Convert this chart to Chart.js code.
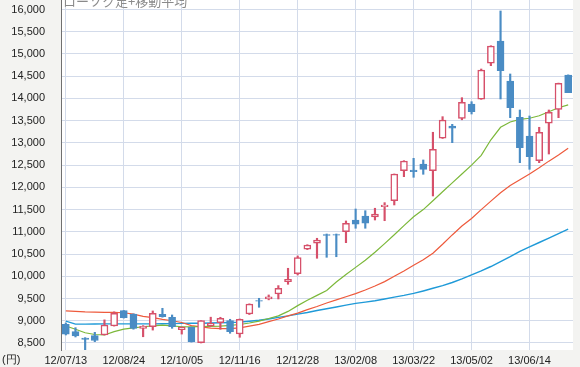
<!DOCTYPE html>
<html>
<head>
<meta charset="utf-8">
<script src="https://cdn.jsdelivr.net/npm/chart.js@4/dist/chart.umd.min.js"></script>
<style>
  html, body { margin: 0; padding: 0; background: #f3f3f1; }
  #wrap { width: 580px; height: 367px; }
</style>
</head>
<body>
<div id="wrap"><canvas id="kabuka"></canvas></div>
<script>
const dates = [
    "12/07/13", "12/07/20", "12/07/27", "12/08/03", "12/08/10", "12/08/17",
    "12/08/24", "12/08/31", "12/09/07", "12/09/14", "12/09/21", "12/09/28",
    "12/10/05", "12/10/12", "12/10/19", "12/10/26", "12/11/02", "12/11/09",
    "12/11/16", "12/11/23", "12/11/30", "12/12/07", "12/12/14", "12/12/21",
    "12/12/28", "13/01/04", "13/01/11", "13/01/18", "13/01/25", "13/02/01",
    "13/02/08", "13/02/15", "13/02/22", "13/03/01", "13/03/08", "13/03/15",
    "13/03/22", "13/03/29", "13/04/05", "13/04/12", "13/04/19", "13/04/26",
    "13/05/02", "13/05/10", "13/05/17", "13/05/24", "13/05/31", "13/06/07",
    "13/06/14", "13/06/21", "13/06/28", "13/07/05", "13/07/12"
];
const tickLabels = ["12/07/13", "12/08/24", "12/10/05", "12/11/16", "12/12/28",
                    "13/02/08", "13/03/22", "13/05/02", "13/06/14"];
const yTicks = [8500, 9000, 9500, 10000, 10500, 11000, 11500, 12000, 12500,
                13000, 13500, 14000, 14500, 15000, 15500, 16000];

const openP  = [8920, 8754, 8610, 8665, 8680, 8882, 9226, 9150, 8830, 8867, 9145, 9078,
                8800, 8853, 8507, 8882, 8957, 9002, 8702, 9152, 9455, 9490, 9602, 9880,
                10058, 10607, 10742, 10940, 10940, 11003, 11266, 11356, 11333, 11565, 11700, 12375,
                12390, 12526, 12375, 13104, 13380, 13550, 13875, 13981, 14794, 15292, 14392, 13576,
                13155, 12600, 13441, 13755, 14527];
const highP  = [8950, 8844, 8620, 8740, 9020, 9200, 9230, 9155, 8890, 9220, 9280, 9130,
                8860, 8860, 9002, 9080, 9078, 9033, 9040, 9380, 9505, 9580, 9790, 10180,
                10457, 10710, 10855, 10951, 10951, 11244, 11513, 11475, 11530, 11656, 12301, 12600,
                12653, 12616, 13239, 13590, 13418, 14017, 13927, 14662, 15185, 15967, 14550, 13740,
                13605, 13351, 13740, 14345, 14530];
const lowP   = [8680, 8635, 8340, 8530, 8680, 8880, 9060, 8810, 8640, 8790, 9080, 8830,
                8700, 8520, 8500, 8875, 8808, 8718, 8628, 9140, 9303, 9470, 9490, 9820,
                10030, 10600, 10405, 10427, 10440, 10756, 11080, 11080, 11266, 11250, 11604, 12240,
                12226, 12294, 11806, 13100, 13005, 13520, 13650, 13980, 14737, 13988, 13568, 12555,
                12406, 12555, 12750, 13567, 14130];
const closeP = [8700, 8657, 8580, 8555, 8905, 9168, 9070, 8830, 8882, 9168, 9092, 8867,
                8855, 8530, 9002, 8943, 9056, 8754, 9033, 9377, 9440, 9540, 9730, 9932,
                10418, 10704, 10816, 10920, 10925, 11192, 11170, 11192, 11401, 11604, 12301, 12593,
                12355, 12406, 12856, 13515, 13330, 13913, 13702, 14640, 15180, 14625, 13792, 12894,
                12690, 13239, 13688, 14340, 14130];

// 移動平均（短期・中期・長期）
const maShort = [8882, 8810, 8730, 8690, 8680, 8755, 8810, 8840, 8865, 8885, 8900, 8885,
                 8865, 8860, 8870, 8875, 8880, 8895, 8915, 8950, 8990, 9050, 9110, 9210,
                 9340, 9460, 9570, 9680, 9870, 10040, 10200, 10360, 10540, 10735, 10935, 11140,
                 11340, 11500, 11700, 11900, 12100, 12300, 12500, 12720, 13070, 13350, 13470, 13530,
                 13555, 13610, 13700, 13790, 13855];
const maMid   = [9222, 9210, 9200, 9195, 9190, 9188, 9180, 9150, 9100, 9070, 9030, 9000,
                 8960, 8890, 8860, 8835, 8825, 8825, 8840, 8880, 8920, 8980, 9040, 9110,
                 9170, 9250, 9320, 9400, 9470, 9540, 9610, 9690, 9780, 9880, 10000, 10120,
                 10250, 10370, 10520, 10720, 10930, 11130, 11300, 11500, 11690, 11880, 12040, 12170,
                 12300, 12440, 12590, 12730, 12880];
const maLong  = [8990, 8925, 8925, 8928, 8930, 8930, 8930, 8930, 8930, 8930, 8932, 8935,
                 8940, 8945, 8945, 8950, 8955, 8962, 8970, 8990, 9010, 9040, 9075, 9110,
                 9150, 9185, 9230, 9270, 9310, 9350, 9390, 9420, 9450, 9490, 9530, 9570,
                 9615, 9670, 9730, 9790, 9860, 9940, 10030, 10120, 10220, 10330, 10440, 10560,
                 10660, 10760, 10860, 10960, 11060];

const UP = "#d6506a";
const DOWN = "#4a8cc4";
const isUp = i => closeP[i] >= openP[i];

const bodies = dates.map((d, i) => [openP[i], closeP[i]]);
const wicks = dates.map((d, i) => [lowP[i], highP[i]]);

const fondo = {
    id: "fondo",
    beforeDraw(chart) {
        const { ctx, chartArea: a } = chart;
        ctx.save();
        ctx.fillStyle = "#f3f3f1";
        ctx.fillRect(0, 0, chart.width, chart.height);
        ctx.fillStyle = "#ffffff";
        ctx.fillRect(a.left, a.top, a.right - a.left, a.bottom - a.top);
        ctx.restore();
    },
    afterDraw(chart) {
        const { ctx, chartArea: a } = chart;
        ctx.save();
        ctx.fillStyle = "#8a8a8a";
        ctx.font = "13px 'Noto Sans CJK JP'";
        ctx.textBaseline = "alphabetic";
        ctx.fillText("ローソク足+移動平均", a.left + 2, 6);
        ctx.fillStyle = "#222";
        ctx.font = "11px 'Liberation Sans'";
        ctx.textBaseline = "middle";
        ctx.fillText("(円)", 2, 360);
        ctx.restore();
    }
};

Chart.defaults.font.family = "'Liberation Sans', Arial, sans-serif";
Chart.defaults.font.size = 11;
Chart.defaults.color = "#222";

new Chart(document.getElementById("kabuka"), {
    type: "bar",
    data: {
        labels: dates,
        datasets: [
            {
                type: "bar",
                data: bodies,
                grouped: false,
                order: 0,
                barThickness: 7,
                borderSkipped: false,
                backgroundColor: ctx => isUp(ctx.dataIndex) ? "#ffffff" : DOWN,
                borderColor: ctx => isUp(ctx.dataIndex) ? UP : DOWN,
                borderWidth: ctx => isUp(ctx.dataIndex) ? 1.5 : 1
            },
            {
                type: "bar",
                data: wicks,
                grouped: false,
                order: 1,
                barThickness: 1.5,
                borderWidth: 0,
                backgroundColor: ctx => isUp(ctx.dataIndex) ? UP : DOWN
            },
            {
                type: "line",
                data: maShort,
                order: 2,
                borderColor: "#7cb83a",
                borderWidth: 1.2,
                pointRadius: 0,
                pointHoverRadius: 0,
                tension: 0
            },
            {
                type: "line",
                data: maMid,
                order: 2,
                borderColor: "#ee5a3c",
                borderWidth: 1.2,
                pointRadius: 0,
                pointHoverRadius: 0,
                tension: 0
            },
            {
                type: "line",
                data: maLong,
                order: 2,
                borderColor: "#1f9ad8",
                borderWidth: 1.4,
                pointRadius: 0,
                pointHoverRadius: 0,
                tension: 0
            }
        ]
    },
    options: {
        responsive: true,
        maintainAspectRatio: false,
        animation: false,
        layout: { autoPadding: false, padding: { top: 0, right: 7, left: 0, bottom: 0 } },
        plugins: {
            legend: { display: false },
            tooltip: { enabled: false }
        },
        scales: {
            x: {
                offset: true,
                afterFit: scale => { scale.height = 17; },
                border: { display: false },
                grid: {
                    offset: false,
                    drawTicks: false,
                    color: ctx => tickLabels.includes(dates[ctx.index]) ? "#d3dbea" : "rgba(0,0,0,0)"
                },
                ticks: {
                    autoSkip: false,
                    maxRotation: 0,
                    padding: 4,
                    callback: (v, i) => tickLabels.includes(dates[i]) ? dates[i] : ""
                }
            },
            y: {
                min: 8342,
                max: 16214,
                afterFit: scale => {
                    scale.width = 61;
                    scale.paddingTop = 0;
                    scale.paddingBottom = 0;
                },
                afterBuildTicks: scale => { scale.ticks = yTicks.map(v => ({ value: v })); },
                border: { display: true, color: "#707070", width: 1 },
                grid: { drawTicks: false, color: "#d3dbea" },
                ticks: {
                    padding: 16,
                    callback: v => v.toLocaleString("en-US")
                }
            }
        }
    },
    plugins: [fondo]
});
</script>
</body>
</html>
